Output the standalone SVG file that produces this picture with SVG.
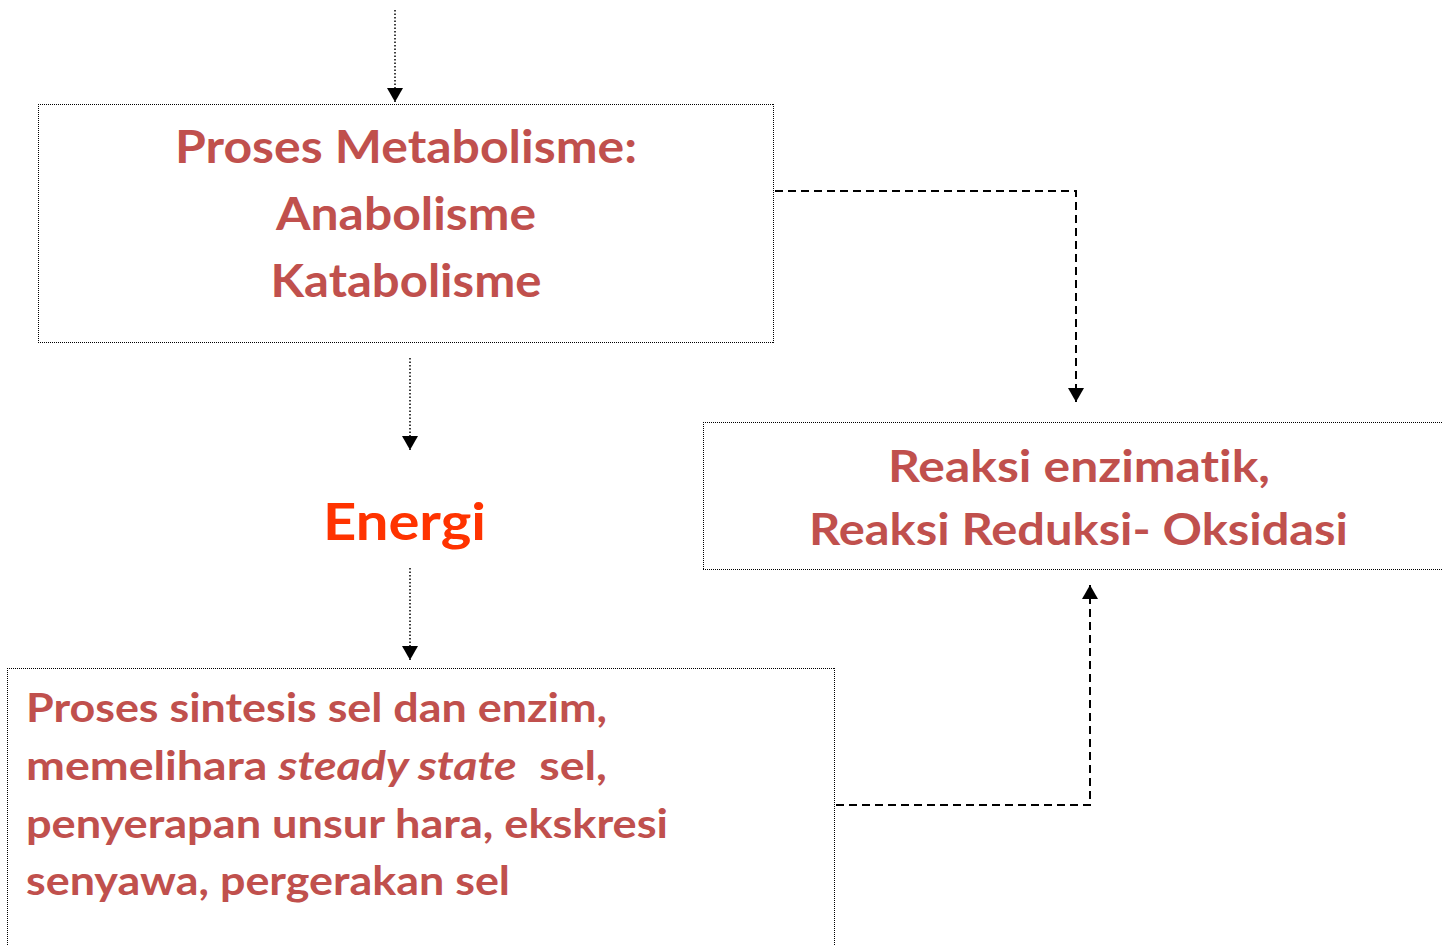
<svg xmlns="http://www.w3.org/2000/svg" width="1442" height="945" viewBox="0 0 1442 945">
<defs>
<style>
.box{fill:none;stroke:#000;stroke-width:1;stroke-dasharray:1 1}
.dot{fill:none;stroke:#000;stroke-width:1.5;stroke-dasharray:1.5 2}
.dash{fill:none;stroke:#000;stroke-width:2;stroke-dasharray:8 5}
.t{font-family:Lato,"Liberation Sans",sans-serif;font-weight:bold;fill:#C0504D;font-variant-ligatures:none}
.c{text-anchor:middle}
</style>
<marker id="ah" viewBox="0 0 14 16" refX="14" refY="8" markerWidth="14" markerHeight="16" markerUnits="userSpaceOnUse" orient="auto">
<path d="M0,0 L14,8 L0,16 Z" fill="#000"/>
</marker>
</defs>
<rect width="1442" height="945" fill="#fff"/>
<g id="connectors">
<line class="dot" x1="395" y1="10" x2="395" y2="102" marker-end="url(#ah)"/>
<line class="dot" x1="410" y1="358" x2="410" y2="450" marker-end="url(#ah)"/>
<line class="dot" x1="410" y1="568" x2="410" y2="660" marker-end="url(#ah)"/>
<polyline class="dash" points="775,191 1076,191 1076,402" marker-end="url(#ah)"/>
<polyline class="dash" points="836,805 1090,805 1090,585" marker-end="url(#ah)"/>
</g>
<g id="metabolisme">
<path class="box" d="M38,104.5 H774 M38,342.5 H774 M38.5,104 V343 M773.5,104 V343"/>
<text class="t c" font-size="45" x="406" y="163" textLength="462" lengthAdjust="spacingAndGlyphs">Proses Metabolisme:</text>
<text class="t c" font-size="45" x="406" y="230" textLength="260" lengthAdjust="spacingAndGlyphs">Anabolisme</text>
<text class="t c" font-size="45" x="406" y="297" textLength="271" lengthAdjust="spacingAndGlyphs">Katabolisme</text>
</g>
<g id="energi">
<text class="c" font-family="Lato,'Liberation Sans',sans-serif" font-weight="bold" font-size="52" fill="#FF3300" x="404.5" y="540" textLength="163" lengthAdjust="spacingAndGlyphs">Energi</text>
</g>
<g id="reaksi">
<path class="box" d="M703,422.5 H1442 M703,569.5 H1442 M703.5,422 V570"/>
<text class="t c" font-size="43" x="1079" y="482" textLength="382" lengthAdjust="spacingAndGlyphs">Reaksi enzimatik,</text>
<text class="t c" font-size="43" x="1078.5" y="545" textLength="539" lengthAdjust="spacingAndGlyphs">Reaksi Reduksi- Oksidasi</text>
</g>
<g id="sintesis">
<path class="box" d="M7,668.5 H835 M7.5,668 V945 M834.5,668 V945"/>
<text class="t" font-size="41" x="26" y="722" textLength="581" lengthAdjust="spacingAndGlyphs">Proses sintesis sel dan enzim,</text>
<text class="t" font-size="41" x="26" y="780" textLength="581" lengthAdjust="spacingAndGlyphs" xml:space="preserve">memelihara <tspan font-style="italic">steady state</tspan>  sel,</text>
<text class="t" font-size="41" x="26" y="838" textLength="642" lengthAdjust="spacingAndGlyphs">penyerapan unsur hara, ekskresi</text>
<text class="t" font-size="41" x="26" y="895" textLength="484" lengthAdjust="spacingAndGlyphs">senyawa, pergerakan sel</text>
</g>
</svg>
